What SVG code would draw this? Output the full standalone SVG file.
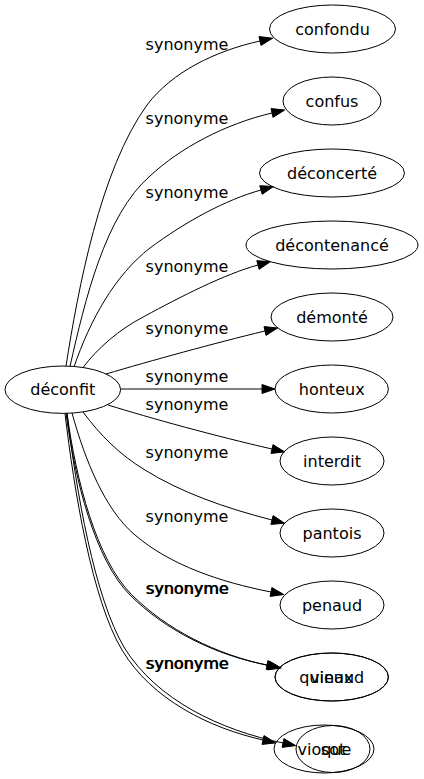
<svg xmlns="http://www.w3.org/2000/svg" width="424" height="779" viewBox="0 0 424 779">
<style>
  .bg { fill: #ffffff; }
  .node ellipse { fill: none; stroke: #000; stroke-width: 1; }
  .node text, .lbl { font-family: "DejaVu Sans", "Noto Sans", sans-serif; font-size: 16px; fill: #000; text-anchor: middle; }
  #edges path { fill: none; stroke: #000; stroke-width: 1; }
  #edges polygon { fill: #000; stroke: #000; stroke-width: 1; }
</style>
<rect class="bg" x="0" y="0" width="424" height="779"/>

<g id="edges">
  <!-- confondu -->
  <path d="M66,366 C78,290 100,170 147,105 C172,72 215,51 260,41"/>
  <polygon points="259,36.6 272.7,38.2 261,45.4"/>
  <text class="lbl" x="187" y="49.5">synonyme</text>
  <!-- confus -->
  <path d="M70,366.4 C85,300 105,215 150,176 C180,148 225,124 272,113"/>
  <polygon points="271,108.6 284.7,110 273,117.4"/>
  <text class="lbl" x="187" y="124">synonyme</text>
  <!-- déconcerté -->
  <path d="M74,367 C90,320 115,275 150,248 C185,222 225,200 261,190"/>
  <polygon points="259.8,185.7 273.5,186.5 262.2,194.3"/>
  <text class="lbl" x="187" y="197.5">synonyme</text>
  <!-- décontenancé -->
  <path d="M83,367.5 C98,348 118,330 145,316 C180,297 225,274 258,265"/>
  <polygon points="256.8,260.7 270.5,261.6 259.2,269.3"/>
  <text class="lbl" x="187" y="272">synonyme</text>
  <!-- démonté -->
  <path d="M106,374 C150,361 215,343 265,331"/>
  <polygon points="264,326.6 277.6,328 266,335.4"/>
  <text class="lbl" x="187" y="334">synonyme</text>
  <!-- honteux -->
  <path d="M120.6,389 L262,389"/>
  <polygon points="262,384.5 275,389 262,393.5"/>
  <text class="lbl" x="187" y="382">synonyme</text>
  <!-- interdit -->
  <path d="M108,405 C150,418 215,436 272,449"/>
  <polygon points="273,444.6 284.7,451.9 271,453.4"/>
  <text class="lbl" x="187" y="410">synonyme</text>
  <!-- pantois -->
  <path d="M83,412 C100,435 120,455 145,470 C180,492 225,508 272,520"/>
  <polygon points="273.1,515.6 284.6,523.2 270.9,524.4"/>
  <text class="lbl" x="187" y="458">synonyme</text>
  <!-- penaud -->
  <path d="M72,413 C85,460 105,510 135,535 C170,565 220,582 271,592"/>
  <polygon points="271.9,587.6 283.8,594.5 270.1,596.4"/>
  <text class="lbl" x="187" y="522">synonyme</text>
  <!-- quinaud -->
  <path d="M66,413.4 C75,480 95,560 130,595 C165,630 215,655 267,665"/>
  <polygon points="267.9,660.6 279.8,667.5 266.1,669.4"/>
  <text class="lbl" x="187" y="594">synonyme</text>
  <!-- vieux -->
  <path d="M67,413.4 C76,480 96.5,559.5 131.5,594.5 C166.5,629.5 216,654.5 268.5,665.5"/>
  <polygon points="269.4,661.1 281.3,668 267.6,669.9"/>
  <text class="lbl" x="187.8" y="594.4">synonyme</text>
  <!-- vioque -->
  <path d="M65,413.4 C74,490 92,600 122,650 C152,700 210,728 263,740"/>
  <polygon points="264,735.6 275.7,742.9 262,744.4"/>
  <text class="lbl" x="187" y="669">synonyme</text>
  <!-- sot -->
  <path d="M67,413.4 C76,490 94.5,598 124.5,648 C157,700 220,730 283,743"/>
  <polygon points="283.9,738.6 295.7,745.6 282.1,747.4"/>
  <text class="lbl" x="187.8" y="669.4">synonyme</text>
</g>

<g id="node-deconfit" class="node">
  <ellipse cx="62.8" cy="389.7" rx="57.8" ry="23.7"/>
  <text x="62.8" y="395.2">déconfit</text>
</g>
<g id="node-confondu" class="node">
  <ellipse cx="332.5" cy="29" rx="63" ry="24"/>
  <text x="332.5" y="34.5">confondu</text>
</g>
<g id="node-confus" class="node">
  <ellipse cx="332" cy="101" rx="49" ry="24"/>
  <text x="332" y="106.5">confus</text>
</g>
<g id="node-deconcerte" class="node">
  <ellipse cx="332" cy="173" rx="72.5" ry="24"/>
  <text x="332" y="178.5">déconcerté</text>
</g>
<g id="node-decontenance" class="node">
  <ellipse cx="332" cy="245" rx="86" ry="24"/>
  <text x="332" y="250.5">décontenancé</text>
</g>
<g id="node-demonte" class="node">
  <ellipse cx="332" cy="317" rx="61" ry="24"/>
  <text x="332" y="322.5">démonté</text>
</g>
<g id="node-honteux" class="node">
  <ellipse cx="331.7" cy="389" rx="56.7" ry="24"/>
  <text x="331.7" y="394.5">honteux</text>
</g>
<g id="node-interdit" class="node">
  <ellipse cx="332" cy="461" rx="52" ry="24"/>
  <text x="332" y="466.5">interdit</text>
</g>
<g id="node-pantois" class="node">
  <ellipse cx="332" cy="533" rx="52" ry="24"/>
  <text x="332" y="538.5">pantois</text>
</g>
<g id="node-penaud" class="node">
  <ellipse cx="332" cy="605" rx="52" ry="24"/>
  <text x="332" y="610.5">penaud</text>
</g>
<g id="node-quinaud" class="node">
  <ellipse cx="331.7" cy="677" rx="56.7" ry="24"/>
  <text x="331.7" y="682.5">quinaud</text>
</g>
<g id="node-vieux" class="node">
  <ellipse cx="331.7" cy="677" rx="56.7" ry="24"/>
  <text x="331.7" y="682.5">vieux</text>
</g>
<g id="node-vioque" class="node">
  <ellipse cx="324" cy="749" rx="50" ry="24"/>
  <text x="324.5" y="754.5">vioque</text>
</g>
<g id="node-sot" class="node">
  <ellipse cx="333" cy="749" rx="37" ry="23.5"/>
  <text x="333" y="754.5">sot</text>
</g>
</svg>
